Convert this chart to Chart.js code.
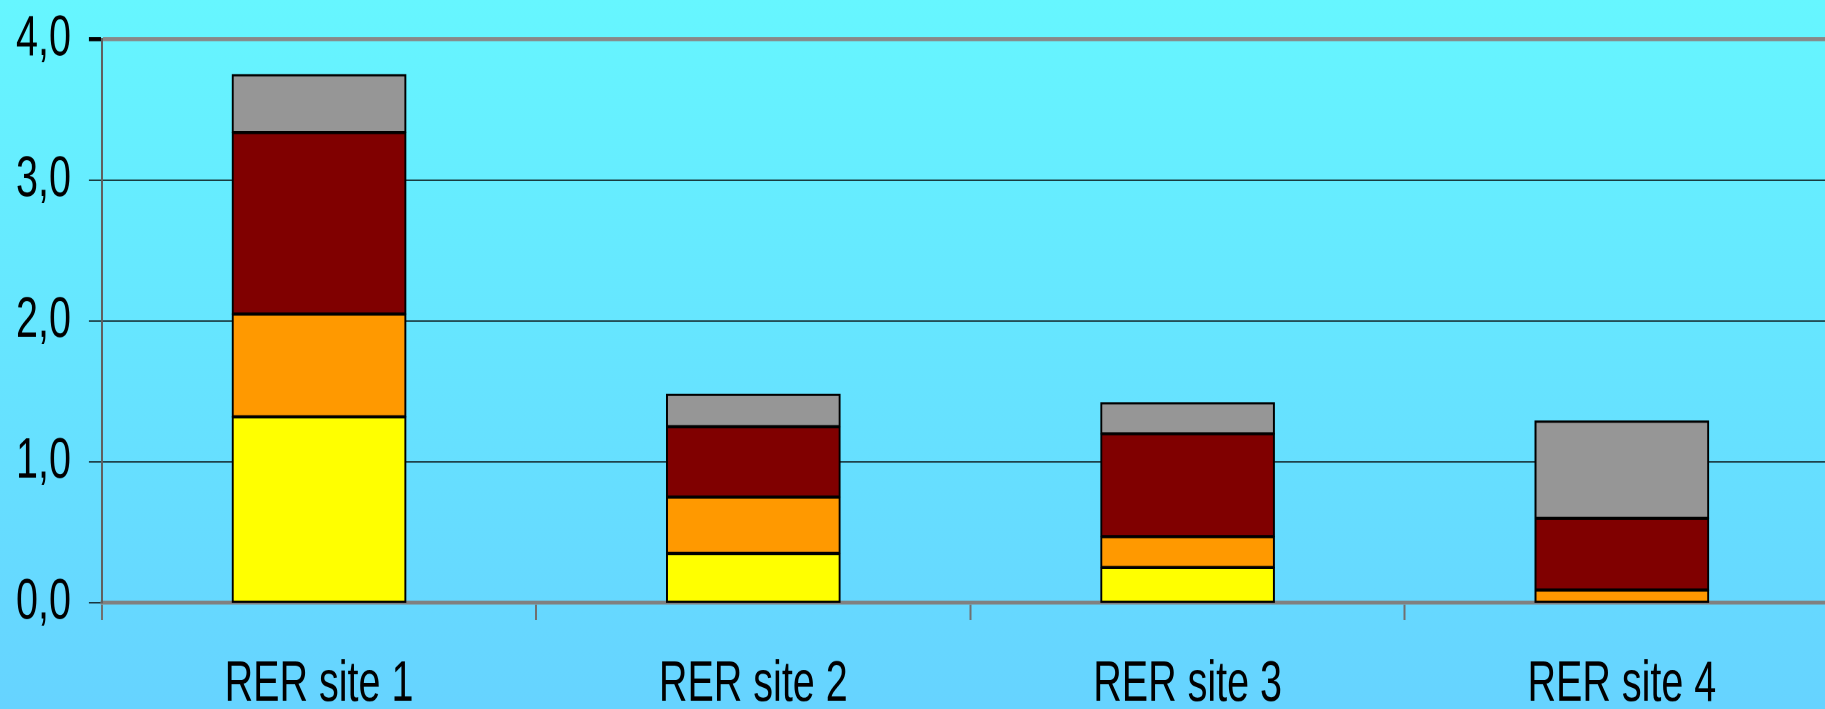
<!DOCTYPE html>
<html>
<head>
<meta charset="utf-8">
<title>RER sites</title>
<script src="https://cdn.jsdelivr.net/npm/chart.js@4"></script>
<style>
  html, body {
    margin: 0;
    padding: 0;
    width: 1825px;
    height: 709px;
    overflow: hidden;
    background: linear-gradient(to bottom, #66f6ff 0%, #66d3ff 100%);
  }
  /* the original chart is drawn with a tall, narrow face: stretch vertically */
  #wrap {
    position: absolute;
    left: 0;
    top: 0;
    width: 1840px;
    height: 525px;
    transform: scaleY(1.43);
    transform-origin: 0 0;
  }
</style>
</head>
<body>
<div id="wrap"><canvas id="chart"></canvas></div>
<script>
var categories = ['RER site 1', 'RER site 2', 'RER site 3', 'RER site 4'];

// stacked from bottom to top
var yellowValues = [1.32, 0.35, 0.25, 0];
var orangeValues = [0.73, 0.40, 0.22, 0.09];
var redValues = [1.29, 0.50, 0.73, 0.51];
var greyValues = [0.41, 0.23, 0.22, 0.69];

var yTicks = [0, 1, 2, 3, 4];

(function () {
  'use strict';

  var FONT = "'Liberation Sans', Arial, sans-serif";

  var SERIES = [
    { label: 'Série 1', data: yellowValues, color: '#ffff00' },
    { label: 'Série 2', data: orangeValues, color: '#ff9900' },
    { label: 'Série 3', data: redValues, color: '#800000' },
    { label: 'Série 4', data: greyValues, color: '#969696' },
  ];

  function buildDatasets() {
    var sets = [];
    for (var i = 0; i < SERIES.length; i++) {
      sets.push({
        label: SERIES[i].label,
        data: SERIES[i].data,
        backgroundColor: SERIES[i].color,
        borderColor: '#000000',
        borderWidth: { top: 1.6, bottom: 1.6, left: 2, right: 2 },
        borderSkipped: false,
        inflateAmount: 0.5,
        barPercentage: 0.4,
        categoryPercentage: 1.0,
      });
    }
    return sets;
  }

  function fmt(v) {
    return Number(v).toFixed(1).replace('.', ',');
  }

  new Chart(document.getElementById('chart'), {
    type: 'bar',
    data: {
      labels: categories,
      datasets: buildDatasets(),
    },
    options: {
      responsive: true,
      maintainAspectRatio: false,
      animation: false,
      devicePixelRatio: 2,
      layout: {
        padding: { top: 27.6, left: -2, right: 1, bottom: 0 },
      },
      plugins: {
        legend: { display: false },
        tooltip: { enabled: false },
      },
      scales: {
        x: {
          stacked: true,
          grid: {
            offset: true,
            drawOnChartArea: false,
            tickLength: 12,
            color: '#707070',
            lineWidth: 2,
          },
          border: { color: '#808080', width: 2.8 },
          ticks: {
            color: '#000000',
            padding: 26,
            font: { family: FONT, size: 39.5, lineHeight: 1.0 },
          },
        },
        y: {
          stacked: true,
          min: 0,
          max: 4,
          afterBuildTicks: function (scale) {
            scale.ticks = yTicks.map(function (v) { return { value: v }; });
          },
          grid: {
            tickLength: 13,
            tickColor: '#000000',
            color: function (ctx) {
              var v = ctx.tick && ctx.tick.value;
              return (v === 4 || v === 0) ? '#888888' : '#000000';
            },
            lineWidth: function (ctx) {
              var v = ctx.tick && ctx.tick.value;
              return v === 4 ? 2.8 : 0.75;
            },
          },
          border: { color: '#606060', width: 2 },
          ticks: {
            color: '#000000',
            padding: 18,
            // single-line labels: a small line height keeps the top label from padding the plot
            font: { family: FONT, size: 39.5, lineHeight: 0.3 },
            callback: function (v) { return fmt(v); },
          },
        },
      },
    },
  });
})();
</script>
</body>
</html>
